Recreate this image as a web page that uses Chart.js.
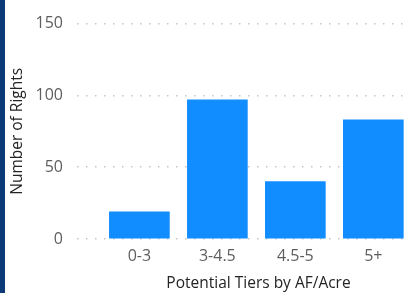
<!DOCTYPE html>
<html>
<head>
<meta charset="utf-8">
<script src="https://cdn.jsdelivr.net/npm/chart.js@4"></script>
<style>
  html, body { margin: 0; padding: 0; background: #fff; overflow: hidden; }
  #wrap { position: absolute; left: 0; top: 0; width: 400px; height: 293px; border-left: 5px solid #0c3a78; overflow: hidden; }
</style>
</head>
<body>
<div id="wrap"><canvas id="chart-area" width="435" height="293"></canvas></div>
<script>
(function() {

  "use strict";

  var tiers = ["0-3", "3-4.5", "4.5-5", "5+"];
  var rights = [19, 97, 40, 83];
  var yTicks = [0, 50, 100, 150];

  var font = "'Open Sans', 'DejaVu Sans', sans-serif";

  var points = tiers.map(function(t, i) { return { x: i, y: rights[i] }; });

  // plot area runs a bit past the visible right edge, like the original visual
  var tierChart = new Chart(document.getElementById("chart-area"), {
    type: 'bar',
    data: {
      datasets: [{
        label: "Number of Rights",
        backgroundColor: "#118DFF",
        data: points,
        barThickness: 60
      }]
    },
    options: {
      responsive: false,
      animation: false,
      layout: { padding: { top: 15, right: 0, left: 0, bottom: 0 } },
      plugins: { legend: { display: false }, tooltip: { enabled: false } },
      scales: {
        x: {
          type: 'linear',
          offset: false,
          min: -0.8,
          max: 3.855,
          grid: { display: false },
          border: { display: false },
          afterBuildTicks: function(scale) {
            scale.ticks = tiers.map(function(t, i) { return { value: i }; });
          },
          afterFit: function(scale) { scale.height = 54; },
          ticks: {
            color: "#605E5C",
            font: { family: font, size: 16 },
            padding: 0,
            maxRotation: 0,
            callback: function(v) { return tiers[v]; }
          },
          title: {
            display: true,
            text: "Potential Tiers by AF/Acre",
            color: "#252423",
            font: { family: font, size: 15.5 },
            padding: { top: 0, bottom: 0 }
          }
        },
        y: {
          min: 0,
          max: 150,
          afterBuildTicks: function(scale) {
            scale.ticks = yTicks.map(function(v) { return { value: v }; });
          },
          afterFit: function(scale) { scale.width = 72; },
          grid: {
            color: "#C8C6C4",
            lineWidth: 1.5,
            drawTicks: false
          },
          border: { display: false, dash: [1.5, 7.5] },
          ticks: {
            color: "#605E5C",
            font: { family: font, size: 16 },
            padding: 14
          },
          title: {
            display: true,
            text: "Number of Rights",
            color: "#252423",
            font: { family: font, size: 15.5 },
            padding: { top: 3, bottom: 0 }
          }
        }
      }
    }
  });

})();
</script>
</body>
</html>
